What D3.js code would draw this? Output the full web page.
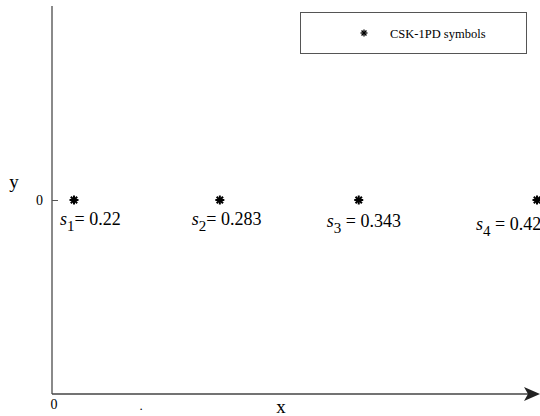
<!DOCTYPE html>
<html>
<head>
<meta charset="utf-8">
<script src="https://cdn.jsdelivr.net/npm/d3@7"></script>
<style>
  html, body { margin: 0; padding: 0; background: #fff; }
  svg { display: block; }
</style>
</head>
<body>
<div id="chart"></div>
<script>
// CSK-1PD symbol positions along the x axis
const symbolIds = ["1", "2", "3", "4"];
const symbolValues = [0.22, 0.283, 0.343, 0.42];
const symbolLabelsEq = ["= ", "= ", " = ", " = "];
const yTicks = [0];
const legendLabel = "CSK-1PD symbols";

const SERIF = "'Liberation Serif', 'DejaVu Serif', serif";
const W = 540, H = 416;
const svg = d3.select("#chart").append("svg")
  .attr("width", W).attr("height", H)
  .attr("font-family", SERIF);

const x = d3.scaleLinear().domain([0.2105, 0.4213]).range([52, 540]);
const y = d3.scaleLinear().domain([-1, 1]).range([394, 6]);

// y axis (plain vertical line with a single tick at 0)
svg.append("line")
  .attr("x1", 52).attr("x2", 52).attr("y1", 6).attr("y2", 394)
  .attr("stroke", "#8a8a8a").attr("stroke-width", 2);

const yAxis = d3.axisLeft(y).tickValues(yTicks).tickFormat(d3.format("d"))
  .tickSize(-6).tickPadding(9);
const gy = svg.append("g").attr("transform", "translate(52,0)").call(yAxis)
  .attr("font-family", SERIF).attr("font-size", 14);
gy.select(".domain").remove();
gy.selectAll(".tick line").attr("stroke", "#555");
gy.selectAll(".tick text")
  .attr("font-family", SERIF)
  .attr("font-size", 14).attr("fill", "#000");

// x axis with arrow head
svg.append("line")
  .attr("x1", 52).attr("x2", 530).attr("y1", 394).attr("y2", 394)
  .attr("stroke", "#444").attr("stroke-width", 1.5);
svg.append("path")
  .attr("d", "M540,394 L524,387 L528,394 L524,401 Z")
  .attr("fill", "#222");

function txt(xp, yp, size, s) {
  return svg.append("text").attr("x", xp).attr("y", yp)
    .attr("font-family", SERIF).attr("text-anchor", "middle")
    .attr("font-size", size).text(s);
}
txt(54, 409, 14, "0");
txt(141, 410, 13, ".");
txt(281, 413, 19, "x");
txt(14, 188, 19, "y");

// asterisk marker
function asterisk(g, r, w) {
  [0, 45, 90, 135].forEach(deg => {
    const t = deg * Math.PI / 180;
    g.append("line")
      .attr("x1", -r * Math.cos(t)).attr("y1", -r * Math.sin(t))
      .attr("x2", r * Math.cos(t)).attr("y2", r * Math.sin(t))
      .attr("stroke", "#000").attr("stroke-width", w);
  });
}

const pts = svg.append("g");
symbolValues.forEach(v => {
  const g = pts.append("g").attr("transform", `translate(${x(v)},${y(0)})`);
  asterisk(g, 4.5, 2);
});

// value labels  s_i = value
const labelDx = [-14, -28, -32, -61];
const labelDy = [25, 25, 27, 30];
symbolValues.forEach((v, i) => {
  const t = svg.append("text")
    .attr("x", x(v) + labelDx[i]).attr("y", y(0) + labelDy[i])
    .attr("font-family", SERIF)
    .attr("font-size", 18);
  t.append("tspan").attr("font-style", "italic").text("s");
  t.append("tspan").attr("font-size", 15).attr("dy", 6).text(symbolIds[i]);
  t.append("tspan").attr("dy", -6).text(symbolLabelsEq[i] + v);
});

// legend
const lg = svg.append("g");
lg.append("rect").attr("x", 300.5).attr("y", 12.5).attr("width", 226).attr("height", 41)
  .attr("fill", "#fff").attr("stroke", "#555").attr("stroke-width", 1);
const lm = lg.append("g").attr("transform", "translate(364,33)");
asterisk(lm, 3.5, 1.3);
lg.append("text").attr("x", 390).attr("y", 37.5)
  .attr("font-family", SERIF)
  .attr("font-size", 12.5).text(legendLabel);
</script>
</body>
</html>
